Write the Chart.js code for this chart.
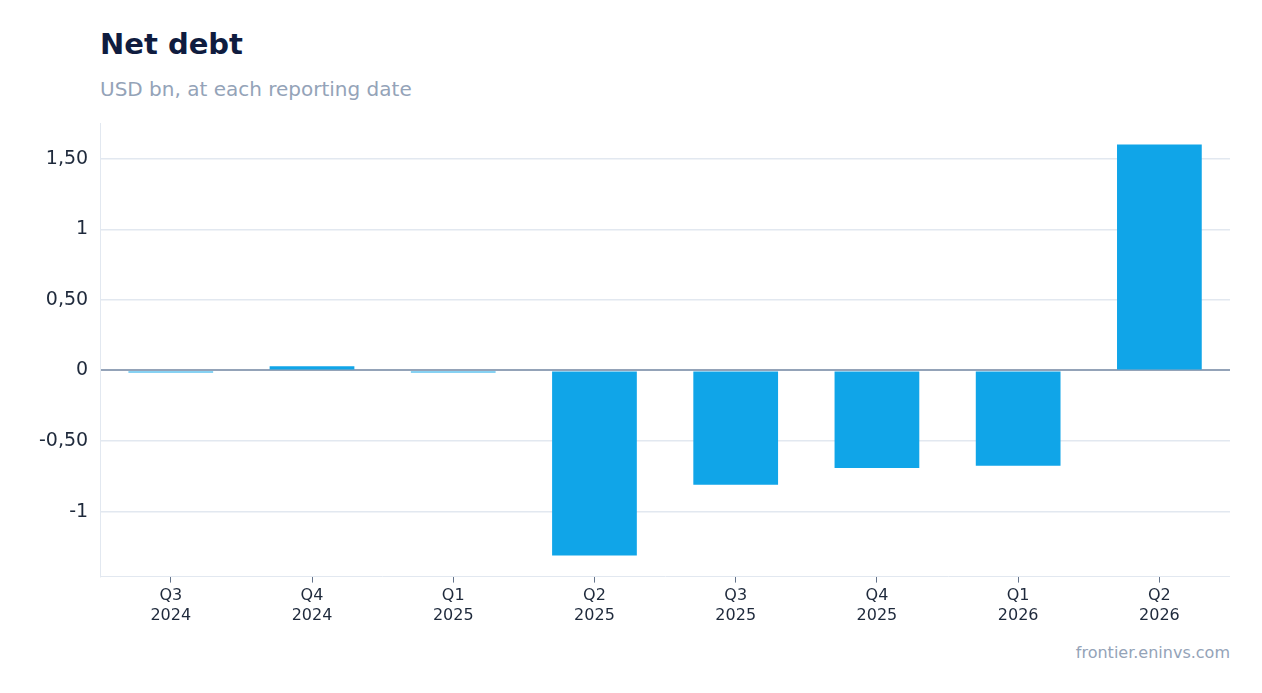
<!doctype html>
<html>
<head>
<meta charset="utf-8" />
<title>Net debt</title>
<script src="https://cdn.jsdelivr.net/npm/chart.js"></script>
<style>
  body { margin: 0; background: #fff; font-family: "DejaVu Sans", sans-serif; }
  #wrap { position: relative; width: 1262px; height: 693px; }
  h1 { position: absolute; left: 100px; top: 27px; margin: 0; font-size: 29px; color: #0f1c3f; font-weight: bold; }
  .sub { position: absolute; left: 100px; top: 77px; font-size: 20px; color: #94a3b8; }
  .src { position: absolute; right: 32px; top: 643px; font-size: 16px; color: #94a3b8; }
  #box { position: absolute; left: 27px; top: 100px; width: 1203px; height: 529px; }
</style>
</head>
<body>
<div id="wrap">
  <h1>Net debt</h1>
  <div class="sub">USD bn, at each reporting date</div>
  <div id="box"><canvas id="chart"></canvas></div>
  <div class="src">frontier.eninvs.com</div>
</div>
<script>
  const quarters = [["Q3", "2024"], ["Q4", "2024"], ["Q1", "2025"], ["Q2", "2025"], ["Q3", "2025"], ["Q4", "2025"], ["Q1", "2026"], ["Q2", "2026"]];
  const netDebt = [-0.015, 0.03, -0.015, -1.31, -0.81, -0.69, -0.675, 1.6];

  function fmt(v) {
    if (Math.abs(v) < 1e-9) return "0";
    if (Number.isInteger(v)) return String(v);
    return v.toFixed(2).replace(".", ",");
  }

  new Chart(document.getElementById("chart"), {
    type: "bar",
    data: {
      labels: quarters,
      datasets: [{ data: netDebt, backgroundColor: "#10a5e8", categoryPercentage: 0.6, barPercentage: 1 }],
    },
    options: {
      responsive: true,
      maintainAspectRatio: false,
      animation: false,
      plugins: { legend: { display: false }, tooltip: { enabled: false } },
      scales: {
        x: {
          offset: true,
          grid: { display: true, color: "transparent", tickColor: "#64748b", drawTicks: true, tickLength: 6, offset: false },
          border: { color: "#e2e8f0" },
          ticks: { color: "#1e293b", font: { size: 16, family: "DejaVu Sans" }, padding: 4 },
        },
        y: {
          min: -1.46,
          max: 1.75,
          afterBuildTicks: (ax) => { ax.ticks = [-1, -0.5, 0, 0.5, 1, 1.5].map((v) => ({ value: v })); },
          grid: {
            color: (c) => (c.tick && c.tick.value === 0 ? "#94a3b8" : "#e2e8f0"),
            lineWidth: (c) => (c.tick && c.tick.value === 0 ? 2 : 1.5),
            drawTicks: false,
          },
          border: { color: "#e2e8f0" },
          ticks: { color: "#1e293b", font: { size: 19, family: "DejaVu Sans" }, padding: 12, callback: (v) => fmt(v) },
        },
      },
    },
  });
</script>
</body>
</html>
